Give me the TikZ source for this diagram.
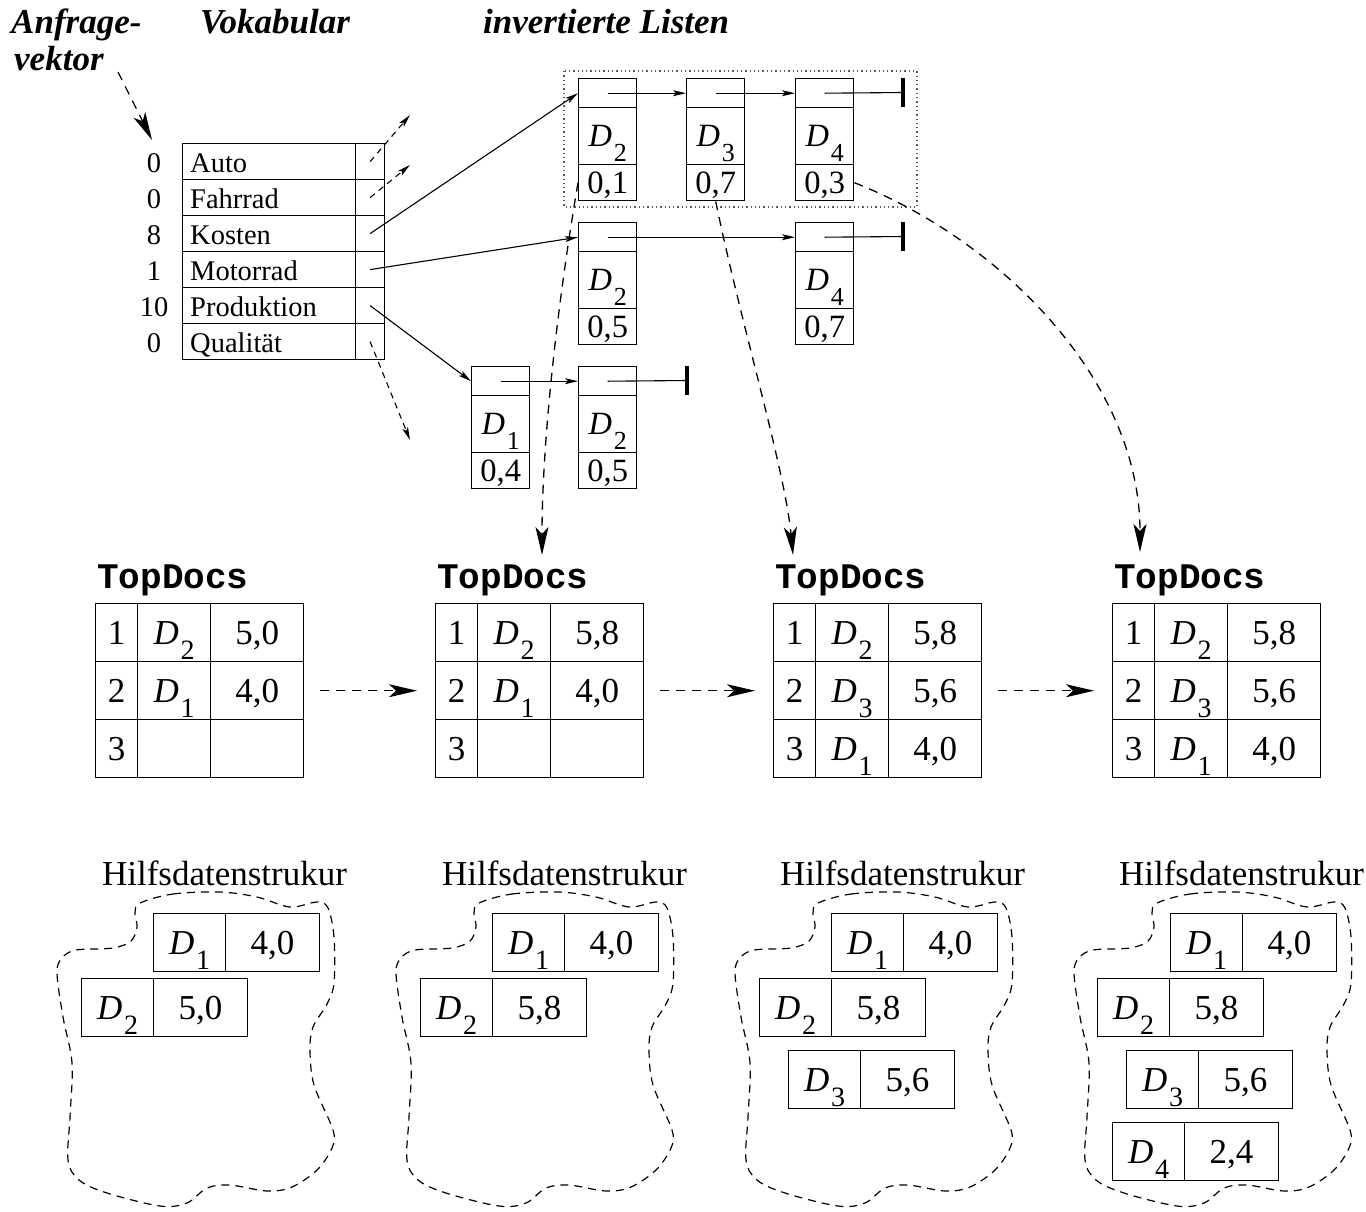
\documentclass[tikz,border=0pt]{standalone}
\usepackage{fontspec}
\setmainfont{Liberation Serif}
\setmonofont{Liberation Mono}
\usepackage{graphicx}
\usetikzlibrary{arrows.meta}
\newcommand{\Dn}[1]{\textit{D}\kern0.05em\raisebox{-0.44em}[0pt][0pt]{\scalebox{0.8}{#1}}}
% inverted list box: name, x, y, D, value
\newcommand{\ilbox}[5]{%
  \node[cell,minimum width=58bp,minimum height=29bp] (#1p) at (#2,#3) {};
  \node[cell,minimum width=58bp,minimum height=57bp,ilfont] (#1d) at (#2,#3+29) {#4};
  \node[cell,minimum width=58bp,minimum height=36bp,ilfont] (#1v) at (#2,#3+86) {#5};}
% TopDocs row: prefix, x, y, number, D, value
\newcommand{\tdrow}[6]{%
  \node[cell,minimum width=42bp,minimum height=58bp,mainfont] (#1a) at (#2,#3) {#4};
  \node[cell,minimum width=73bp,minimum height=58bp,mainfont] (#1b) at (#2+42,#3) {#5};
  \node[cell,minimum width=93bp,minimum height=58bp,mainfont] (#1c) at (#2+115,#3) {#6};}
% Hilfsdatenstruktur entry: prefix, x, y, D, value
\newcommand{\hilfbox}[5]{%
  \node[cell,line width=1.2bp,minimum width=72bp,minimum height=58bp,mainfont] (#1a) at (#2,#3) {#4};
  \node[cell,line width=1.2bp,minimum width=94bp,minimum height=58bp,mainfont] (#1b) at (#2+72,#3) {#5};}
\begin{document}
\begin{tikzpicture}[x=1bp,y=-1bp,
  cell/.style={draw, line width=1.4bp, inner sep=0pt, anchor=north west},
  mainfont/.style={font=\fontsize{35bp}{40bp}\selectfont, text height=23bp, text depth=0bp},
  ilfont/.style={font=\fontsize{32.5bp}{38bp}\selectfont, text height=21.5bp, text depth=0bp},
  vfont/.style={font=\fontsize{28.5bp}{34bp}\selectfont},
  titlefont/.style={font=\fontsize{35bp}{38bp}\selectfont\bfseries\itshape},
  ttfont/.style={font=\fontsize{36bp}{40bp}\selectfont\ttfamily\bfseries},
  dsh/.style={line width=1.3bp, dash pattern=on 9bp off 7bp},
  bigtip/.style={-{Stealth[length=28bp,width=13bp,inset=7bp]}},
  smalltip/.style={-{Stealth[length=13bp,width=6bp,inset=3bp]}},
  thin/.style={line width=1.1bp},
]
\useasboundingbox (0,0) rectangle (1366,1211);

% ---- titles
\node[titlefont, anchor=base west, inner sep=0pt] (tA) at (11,33) {Anfrage-};
\node[titlefont, anchor=base west, inner sep=0pt] (tB) at (14,70) {vektor};
\node[titlefont, anchor=base west, inner sep=0pt] (tV) at (200,33) {Vokabular};
\node[titlefont, anchor=base west, inner sep=0pt] (tL) at (483,33) {invertierte Listen};

% ---- vocabulary
\foreach \n/\w/\i in {0/Auto/1, 0/Fahrrad/2, 8/Kosten/3, 1/Motorrad/4, 10/Produktion/5, 0/Qualit\"at/6}{
  \node[cell, line width=1.2bp, minimum width=173bp, minimum height=36bp] (w\i) at (182,107+36*\i) {};
  \node[cell, line width=1.2bp, minimum width=29bp, minimum height=36bp] (p\i) at (355,107+36*\i) {};
  \node[vfont, anchor=base west, inner sep=0pt] (wl\i) at (190,136+36*\i) {\w};
  \node[vfont, anchor=base, inner sep=0pt] (n\i) at (154,136+36*\i) {\n};
}
\coordinate (qv) at (152,140);
\draw[dsh, bigtip] (118,72) -- (qv);

% ---- inverted lists
\ilbox{Aa}{578}{78}{\Dn{2}}{0,1}
\ilbox{Ab}{686}{78}{\Dn{3}}{0,7}
\ilbox{Ac}{795}{78}{\Dn{4}}{0,3}
\ilbox{Ba}{578}{222}{\Dn{2}}{0,5}
\ilbox{Bc}{795}{222}{\Dn{4}}{0,7}
\ilbox{Ca}{471}{366}{\Dn{1}}{0,4}
\ilbox{Cb}{578}{366}{\Dn{2}}{0,5}

\draw[thin, smalltip] (Aap.center) -- (Abp.west);
\draw[thin, smalltip] (Abp.center) -- (Acp.west);
\coordinate (endA) at (903,92.5);
\draw[thin] (Acp.center) -- (endA);
\draw[line width=4bp] ([yshift=14.5bp]endA) -- ([yshift=-14.5bp]endA);
\draw[thin, smalltip] (Bap.center) -- (Bcp.west);
\coordinate (endB) at (903,236.5);
\draw[thin] (Bcp.center) -- (endB);
\draw[line width=4bp] ([yshift=14.5bp]endB) -- ([yshift=-14.5bp]endB);
\draw[thin, smalltip] (Cap.center) -- (Cbp.west);
\coordinate (endC) at (687,380.5);
\draw[thin] (Cbp.center) -- (endC);
\draw[line width=4bp] ([yshift=14.5bp]endC) -- ([yshift=-14.5bp]endC);

\draw[line width=1.2bp, dash pattern=on 1.3bp off 3bp, gray!70!black] (564,71) rectangle (917,207);

% vocabulary pointers
\coordinate (autoE) at (410,115);
\coordinate (fahrE) at (410,165);
\coordinate (qualE) at (410,440);
\draw[thin, dash pattern=on 6bp off 5bp, smalltip] (p1.center) -- (autoE);
\draw[thin, dash pattern=on 6bp off 5bp, smalltip] (p2.center) -- (fahrE);
\draw[thin, smalltip] (p3.center) -- (Aap.west);
\draw[thin, smalltip] (p4.center) -- (Bap.west);
\draw[thin, smalltip] (p5.center) -- (Cap.west);
\draw[thin, dash pattern=on 6bp off 5bp, smalltip] (p6.center) -- (qualE);

% ---- TopDocs tables
\foreach \t/\x in {1/95, 2/435, 3/773, 4/1112}{
  \node[ttfont, anchor=base west, inner sep=0pt] (td\t) at (\x+2,588) {TopDocs};
  \node[font=\fontsize{35bp}{40bp}\selectfont, anchor=base, inner sep=0pt] (hl\t) at (\x+129.5,885) {Hilfsdatenstrukur};
}
\tdrow{Ta}{95}{603}{1}{\Dn{2}}{5,0}
\tdrow{Tb}{95}{661}{2}{\Dn{1}}{4,0}
\tdrow{Tc}{95}{719}{3}{}{}
\tdrow{Ua}{435}{603}{1}{\Dn{2}}{5,8}
\tdrow{Ub}{435}{661}{2}{\Dn{1}}{4,0}
\tdrow{Uc}{435}{719}{3}{}{}
\tdrow{Va}{773}{603}{1}{\Dn{2}}{5,8}
\tdrow{Vb}{773}{661}{2}{\Dn{3}}{5,6}
\tdrow{Vc}{773}{719}{3}{\Dn{1}}{4,0}
\tdrow{Wa}{1112}{603}{1}{\Dn{2}}{5,8}
\tdrow{Wb}{1112}{661}{2}{\Dn{3}}{5,6}
\tdrow{Wc}{1112}{719}{3}{\Dn{1}}{4,0}

% horizontal transitions
\draw[dsh, bigtip] ([xshift=16bp]Tbc.east) -- ([xshift=-18bp]Uba.west);
\draw[dsh, bigtip] ([xshift=16bp]Ubc.east) -- ([xshift=-18bp]Vba.west);
\draw[dsh, bigtip] ([xshift=16bp]Vbc.east) -- ([xshift=-18bp]Wba.west);

% from inverted list to TopDocs
\coordinate (e2) at (542,555);
\coordinate (e3) at (793,555);
\coordinate (e4) at (1140,552);
\draw[dsh, bigtip] (Aav.west) .. controls (558,300) and (542,440) .. (e2);
\draw[dsh, bigtip] (Abv.south) .. controls (740,320) and (785,470) .. (e3);
\draw[dsh, bigtip] (Acv.east) .. controls (1000,240) and (1140,380) .. (e4);

% ---- Hilfsdatenstrukturen
\foreach \i in {0,1,2,3}{
  \begin{scope}[shift={(339*\i,0)}]
  \draw[line width=1.2bp, dash pattern=on 8bp off 6bp] plot[smooth cycle, tension=0.55] coordinates {
    (140,903) (173,894) (220,892) (257,897) (290,907) (317,902) (328,908) (334,937)
    (334,983) (327,1004) (313,1027) (310,1050) (314,1085) (333,1130) (332,1148)
    (317,1170) (292,1187) (267,1191) (230,1185) (207,1188) (187,1203) (160,1206)
    (107,1193) (79,1180) (68,1160) (70,1117) (72,1063) (63,1017) (57,973) (62,958)
    (76,950) (113,948) (131,941) (137,927) (135,913)};
  \end{scope}
}
\hilfbox{Ha1}{153}{913}{\Dn{1}}{4,0}
\hilfbox{Ha2}{81}{978}{\Dn{2}}{5,0}
\hilfbox{Hb1}{492}{913}{\Dn{1}}{4,0}
\hilfbox{Hb2}{420}{978}{\Dn{2}}{5,8}
\hilfbox{Hc1}{831}{913}{\Dn{1}}{4,0}
\hilfbox{Hc2}{759}{978}{\Dn{2}}{5,8}
\hilfbox{Hc3}{788}{1050}{\Dn{3}}{5,6}
\hilfbox{Hd1}{1170}{913}{\Dn{1}}{4,0}
\hilfbox{Hd2}{1097}{978}{\Dn{2}}{5,8}
\hilfbox{Hd3}{1126}{1050}{\Dn{3}}{5,6}
\hilfbox{Hd4}{1112}{1122}{\Dn{4}}{2,4}
\end{tikzpicture}
\end{document}
